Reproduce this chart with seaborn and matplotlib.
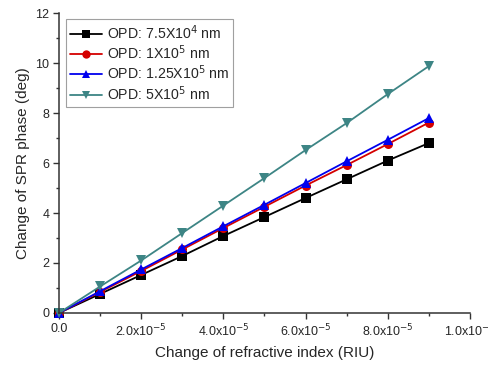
import seaborn as sns
import pandas as pd
import matplotlib.pyplot as plt
from matplotlib.ticker import MultipleLocator, FuncFormatter

sns.set_style('ticks')
plt.rcParams['font.family'] = ['Liberation Sans', 'DejaVu Sans']

# data
dn = [0, 1e-5, 2e-5, 3e-5, 4e-5, 5e-5, 6e-5, 7e-5, 8e-5, 9e-5]
opd_75e4 = [0, 0.76, 1.52, 2.28, 3.08, 3.84, 4.6, 5.35, 6.1, 6.8]
opd_1e5 = [0, 0.84, 1.68, 2.54, 3.4, 4.25, 5.1, 5.92, 6.76, 7.62]
opd_125e5 = [0, 0.87, 1.74, 2.6, 3.47, 4.33, 5.2, 6.07, 6.93, 7.8]
opd_5e5 = [0, 1.06, 2.1, 3.2, 4.3, 5.4, 6.52, 7.6, 8.76, 9.88]

labels = ['OPD: 7.5X10$^4$ nm', 'OPD: 1X10$^5$ nm',
          'OPD: 1.25X10$^5$ nm', 'OPD: 5X10$^5$ nm']
series = [opd_75e4, opd_1e5, opd_125e5, opd_5e5]

df = pd.concat([pd.DataFrame({'dn': dn, 'phase': s, 'OPD': lab})
                for s, lab in zip(series, labels)])

colors = ['#000000', '#d40000', '#0000ee', '#3d8585']
markers = ['s', 'o', '^', 'v']

fig, ax = plt.subplots(figsize=(4.88, 3.66), dpi=100)
fig.subplots_adjust(left=0.121, right=0.963, top=0.964, bottom=0.145)

sns.lineplot(data=df, x='dn', y='phase', hue='OPD', style='OPD',
             palette=colors, markers=markers, dashes=False,
             markersize=6.5, markeredgewidth=0, linewidth=1.3, ax=ax)
for ln in ax.lines:
    ln.set_clip_on(False)

ax.set_xlim(0, 1e-4)
ax.set_ylim(0, 12)
ax.xaxis.set_major_locator(MultipleLocator(2e-5))
ax.xaxis.set_minor_locator(MultipleLocator(1e-5))
ax.yaxis.set_major_locator(MultipleLocator(2))
ax.yaxis.set_minor_locator(MultipleLocator(1))


def xfmt(v, pos):
    if abs(v) < 1e-12:
        return '0.0'
    exp = -5 if v < 9.9e-5 else -4
    return '%.1fx10$^{%d}$' % (v / 10 ** exp, exp)


ax.xaxis.set_major_formatter(FuncFormatter(xfmt))
ax.tick_params(axis='both', which='major', direction='out', length=4,
               width=1, labelsize=9, color='#333333', pad=3)
ax.tick_params(axis='both', which='minor', direction='out', length=2.5,
               width=1, color='#333333')
sns.despine(ax=ax)
for sp in ['left', 'bottom']:
    ax.spines[sp].set_linewidth(1.1)
    ax.spines[sp].set_color('#333333')

ax.set_xlabel('Change of refractive index (RIU)', fontsize=11, labelpad=5)
ax.set_ylabel('Change of SPR phase (deg)', fontsize=11)

leg = ax.legend(loc='upper left', fontsize=10.2, frameon=True, fancybox=False,
                edgecolor='#888888', handlelength=2.2, borderpad=0.3,
                labelspacing=0.12, handletextpad=0.35,
                bbox_to_anchor=(0.0, 1.005))
leg.get_frame().set_linewidth(0.8)
for h in leg.legend_handles:
    h.set_markersize(6)

fig.savefig('out.png', dpi=100)
